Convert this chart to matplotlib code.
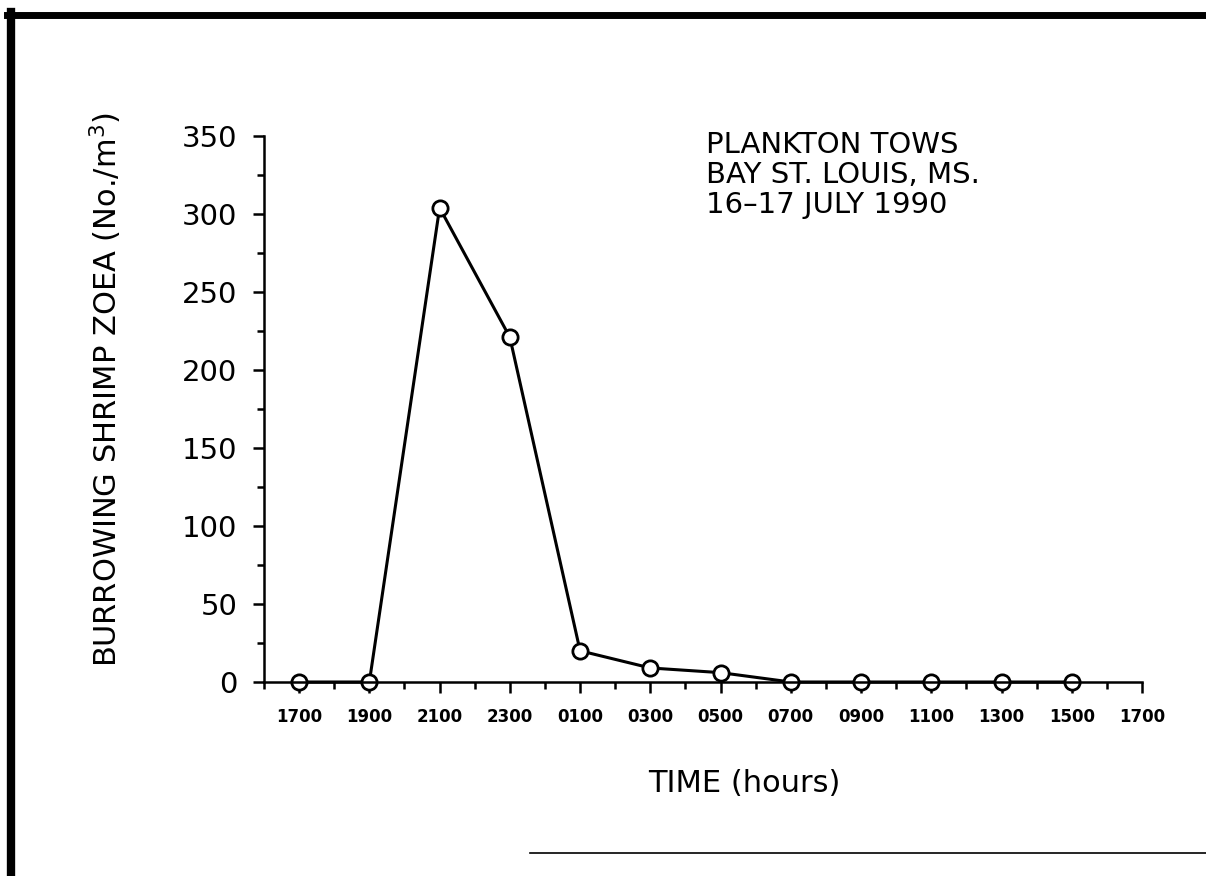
import numpy as np
import matplotlib.pyplot as plt
from matplotlib.lines import Line2D
from matplotlib.ticker import MultipleLocator

# hours after 1700 on 16 July, one tow every two hours
hours = [0, 2, 4, 6, 8, 10, 12, 14, 16, 18, 20, 22]
zoea = [0, 0, 304, 221, 20, 9, 6, 0, 0, 0, 0, 0]
tick_labels = ["1700", "1900", "2100", "2300", "0100", "0300", "0500",
               "0700", "0900", "1100", "1300", "1500", "1700"]

plt.rcParams["font.family"] = "DejaVu Sans"

fig = plt.figure(figsize=(12.06, 8.76), dpi=100)
ax = fig.add_axes([264 / 1206, 1 - 682 / 876, (1142 - 264) / 1206, (682 - 136) / 876])

ax.plot(hours, zoea, color="black", lw=2.2, marker="o", markersize=11,
        markerfacecolor="white", markeredgecolor="black", markeredgewidth=2,
        clip_on=False)

ax.set_xlim(-1, 24)
ax.set_ylim(0, 350)
ax.set_xticks(np.arange(0, 25, 2))
ax.set_xticklabels(tick_labels, fontsize=12, fontweight="bold")
ax.xaxis.set_minor_locator(MultipleLocator(1))
ax.set_yticks(np.arange(0, 351, 50))
ax.yaxis.set_minor_locator(MultipleLocator(25))
ax.tick_params(axis="y", labelsize=21, pad=11)

ax.tick_params(which="major", length=8, width=1.8, direction="out")
ax.tick_params(which="minor", length=5, width=1.8, direction="out")
ax.tick_params(axis="x", which="major", pad=11)

for side in ["top", "right"]:
    ax.spines[side].set_visible(False)
for side in ["left", "bottom"]:
    ax.spines[side].set_linewidth(1.8)

fig.text(706 / 1206, 1 - 131 / 876, "PLANKTON TOWS\nBAY ST. LOUIS, MS.\n16\u201317 JULY 1990",
         fontsize=21, va="top", ha="left", linespacing=1.1)

fig.text(744 / 1206, 1 - 783 / 876, "TIME (hours)", fontsize=22, ha="center", va="center")
fig.text(106 / 1206, 1 - 390 / 876, "BURROWING SHRIMP ZOEA (No./m$^3$)", fontsize=22,
         rotation=90, ha="center", va="center")

# frame around the figure, as scanned
fig.add_artist(Line2D([7 / 1206, 1], [1 - 15 / 876, 1 - 15 / 876], color="black", lw=5,
                      transform=fig.transFigure))
fig.add_artist(Line2D([11 / 1206, 11 / 1206], [0, 1 - 12 / 876], color="black", lw=6,
                      transform=fig.transFigure))
fig.add_artist(Line2D([530 / 1206, 1], [1 - 853 / 876, 1 - 853 / 876], color="black", lw=1.2,
                      transform=fig.transFigure))

fig.savefig("out.png", dpi=100)
